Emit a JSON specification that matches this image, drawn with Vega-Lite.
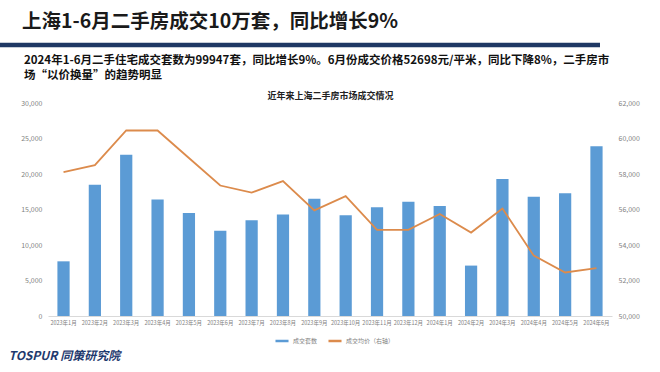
{
  "$schema": "https://vega.github.io/schema/vega-lite/v6.json",
  "background": "white",
  "padding": {"left": 8, "top": 11, "right": 0, "bottom": 0},
  "spacing": -38,
  "config": {
    "font": "Noto Sans CJK SC",
    "view": {"stroke": null}
  },
  "vconcat": [
    {
      "width": 600,
      "height": 2,
      "title": {
        "text": "上海1-6月二手房成交10万套，同比增长9%",
        "anchor": "start",
        "frame": "group",
        "dx": -26,
        "offset": 6,
        "fontSize": 19.5,
        "fontWeight": "bold",
        "color": "#1a1a1a"
      },
      "data": {"values": [{"t": ""}]},
      "mark": {"type": "text"},
      "encoding": {
        "text": {"field": "t"},
        "x": {
          "datum": 0,
          "type": "quantitative",
          "scale": {"domain": [0, 1]},
          "axis": {
            "title": null,
            "labels": false,
            "ticks": false,
            "grid": false,
            "domainColor": "#1f3864",
            "domainWidth": 4.5,
            "translate": -48,
            "offset": 48
          }
        }
      }
    },
    {
      "width": 564,
      "height": 213,
      "title": {
        "text": [
          "2024年1-6月二手住宅成交套数为99947套，同比增长9%。6月份成交价格52698元/平米，同比下降8%，二手房市",
          "场“以价换量”的趋势明显"
        ],
        "anchor": "start",
        "frame": "group",
        "dx": -24,
        "offset": 10,
        "fontSize": 11.5,
        "fontWeight": "bold",
        "lineHeight": 14.5,
        "color": "#111111"
      },
      "data": {
        "values": [
          {"month": "2023年1月", "count": 7700, "price": 58100},
          {"month": "2023年2月", "count": 18500, "price": 58500},
          {"month": "2023年3月", "count": 22700, "price": 60450},
          {"month": "2023年4月", "count": 16400, "price": 60450},
          {"month": "2023年5月", "count": 14500, "price": 58900},
          {"month": "2023年6月", "count": 12000, "price": 57350},
          {"month": "2023年7月", "count": 13500, "price": 56950},
          {"month": "2023年8月", "count": 14300, "price": 57600},
          {"month": "2023年9月", "count": 16500, "price": 55950},
          {"month": "2023年10月", "count": 14200, "price": 56750},
          {"month": "2023年11月", "count": 15300, "price": 54850},
          {"month": "2023年12月", "count": 16100, "price": 54850},
          {"month": "2024年1月", "count": 15500, "price": 55750},
          {"month": "2024年2月", "count": 7100, "price": 54700},
          {"month": "2024年3月", "count": 19300, "price": 56050},
          {"month": "2024年4月", "count": 16800, "price": 53400},
          {"month": "2024年5月", "count": 17300, "price": 52450},
          {"month": "2024年6月", "count": 23900, "price": 52698}
        ]
      },
      "layer": [
        {
          "mark": {"type": "bar"},
          "encoding": {
            "x": {
              "field": "month",
              "type": "ordinal",
              "sort": null,
              "scale": {"paddingInner": 0.61, "paddingOuter": 0.3},
              "axis": {
                "orient": "bottom",
                "title": "TOSPUR 同策研究院",
                "titleAnchor": "start",
                "titleAlign": "left",
                "titleBaseline": "middle",
                "titleX": -40,
                "titleY": 39,
                "titleFontSize": 12,
                "titleFontStyle": "italic",
                "titleFontWeight": "bold",
                "titleColor": "#1f3a6e",
                "labelFontSize": 5.5,
                "labelColor": "#7f7f7f",
                "labelAngle": 0,
                "labelPadding": 4,
                "ticks": false,
                "domainColor": "#d9d9d9",
                "domainWidth": 1
              }
            },
            "y": {
              "field": "count",
              "type": "quantitative",
              "scale": {"domain": [0, 30000]},
              "axis": {
                "orient": "left",
                "title": null,
                "values": [0, 5000, 10000, 15000, 20000, 25000, 30000],
                "format": ",d",
                "labelFontSize": 7,
                "labelColor": "#7f7f7f",
                "labelPadding": 6,
                "ticks": false,
                "domain": false,
                "grid": false
              }
            },
            "color": {
              "datum": "成交套数",
              "type": "nominal",
              "scale": {
                "domain": ["成交套数", "成交均价（右轴）"],
                "range": ["#5b9bd5", "#dc8b4c"]
              },
              "legend": {
                "title": null,
                "orient": "none",
                "direction": "horizontal",
                "legendX": 226,
                "legendY": 290,
                "symbolType": "stroke",
                "symbolStrokeWidth": 2.5,
                "symbolSize": 170,
                "labelFontSize": 6,
                "labelColor": "#7f7f7f",
                "labelOffset": 3,
                "columnPadding": 5
              }
            }
          }
        },
        {
          "mark": {"type": "line", "strokeWidth": 1.8},
          "encoding": {
            "x": {
              "field": "month",
              "type": "ordinal",
              "sort": null,
              "axis": {
                "orient": "top",
                "title": "近年来上海二手房市场成交情况",
                "titleFontSize": 9,
                "titleFontWeight": "bold",
                "titleColor": "#222222",
                "titlePadding": 3,
                "labels": false,
                "ticks": false,
                "domain": false
              }
            },
            "y": {
              "field": "price",
              "type": "quantitative",
              "scale": {"domain": [50000, 62000]},
              "axis": {
                "orient": "right",
                "title": null,
                "values": [50000, 52000, 54000, 56000, 58000, 60000, 62000],
                "format": ",d",
                "labelFontSize": 7,
                "labelColor": "#7f7f7f",
                "labelPadding": 6,
                "ticks": false,
                "domain": false,
                "grid": false
              }
            },
            "color": {"datum": "成交均价（右轴）", "type": "nominal"}
          }
        }
      ],
      "resolve": {"scale": {"y": "independent"}, "axis": {"x": "independent"}}
    }
  ]
}
